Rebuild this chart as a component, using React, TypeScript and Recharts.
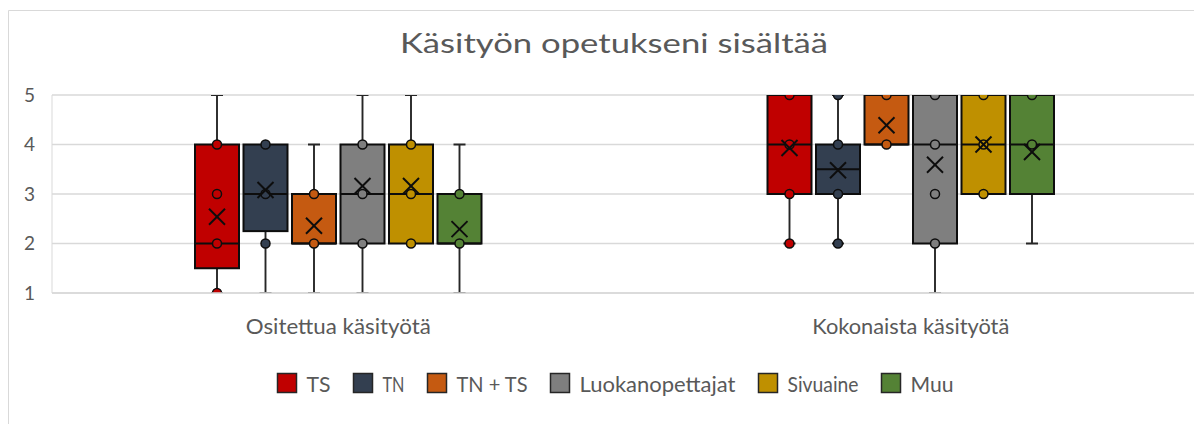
import React from "react";
import { ComposedChart, Bar, XAxis, YAxis, CartesianGrid } from "recharts";

// ---------- data ----------
const categories = ["Ositettua käsityötä", "Kokonaista käsityötä"];
const seriesNames = ["TS", "TN", "TN + TS", "Luokanopettajat", "Sivuaine", "Muu"];
const yTicks = [1, 2, 3, 4, 5];

// each entry: [Ositettua, Kokonaista]
const minValues = [[1, 2], [1, 2], [1, 4], [1, 1], [2, 3], [1, 2]];
const q1Values = [[1.5, 3], [2.25, 3], [2, 4], [2, 2], [2, 3], [2, 3]];
const medianValues = [[2, 4], [3, 3.5], [2, 4], [3, 4], [3, 4], [2, 4]];
const q3Values = [[4, 5], [4, 4], [3, 5], [4, 5], [4, 5], [3, 5]];
const maxValues = [[5, 5], [4, 5], [4, 5], [5, 5], [5, 5], [4, 5]];
const meanValues = [[2.54, 3.93], [3.08, 3.48], [2.36, 4.39], [3.16, 3.59], [3.16, 4.0], [2.29, 3.85]];
const pointValues = [
  [[1, 2, 3, 4], [2, 3, 4, 5]],
  [[2, 3, 4], [2, 3, 4, 5]],
  [[2, 3], [4, 5]],
  [[2, 3, 4], [2, 3, 4, 5]],
  [[2, 3, 4], [3, 4, 5]],
  [[2, 3], [4, 5]],
];

// ---------- styles ----------
const seriesColors = ["#C00000", "#333F50", "#C55A11", "#7F7F7F", "#BF9000", "#548235"];
const FONT = "Lato, 'Open Sans', sans-serif";
const TEXT = "#595959";
const GRID = "#d9d9d9";
const INK = "#0d0d0d";
const WHISKER = "#262626";

const W = 1194;
const H = 416;
const categoryTextLength: Record<string, number> = {
  "Ositettua käsityötä": 185,
  "Kokonaista käsityötä": 197,
};
const legendTextLength = [24, 22, 71, 156, 71, 43];

const seriesKeys = seriesNames.map((_, i) => `s${i}`);

const rows = categories.map((category, ci) => {
  const row: any = { category };
  seriesKeys.forEach((k, si) => {
    row[k] = [minValues[si][ci], maxValues[si][ci]];
  });
  return row;
});

function makeShape(si: number) {
  return (props: any) => {
    const { x, y, width, height, payload, index } = props;
    let ci = payload && payload.category ? categories.indexOf(payload.category) : index;
    if (ci < 0 || ci === undefined) ci = index ?? 0;
    const lo = minValues[si][ci];
    const hi = maxValues[si][ci];
    const top = Math.min(y, y + height);
    const bottom = Math.max(y, y + height);
    const py = (v: number) => bottom - ((v - lo) / (hi - lo)) * (bottom - top);
    const cx = x + width / 2;
    const q1 = q1Values[si][ci];
    const q3 = q3Values[si][ci];
    const med = medianValues[si][ci];
    const mean = meanValues[si][ci];
    const color = seriesColors[si];
    const cap = 6;
    const xs = 8;
    const my = py(mean);
    return (
      <g>
        {hi > q3 && (
          <g>
            <line x1={cx} x2={cx} y1={py(hi)} y2={py(q3)} stroke={WHISKER} strokeWidth={1.9} />
            <line x1={cx - cap} x2={cx + cap} y1={py(hi)} y2={py(hi)} stroke={WHISKER} strokeWidth={1.9} />
          </g>
        )}
        {lo < q1 && (
          <g>
            <line x1={cx} x2={cx} y1={py(q1)} y2={py(lo)} stroke={WHISKER} strokeWidth={1.9} />
            <line x1={cx - cap} x2={cx + cap} y1={py(lo)} y2={py(lo)} stroke={WHISKER} strokeWidth={1.9} />
          </g>
        )}
        <rect
          x={x}
          y={py(q3)}
          width={width}
          height={py(q1) - py(q3)}
          fill={color}
          stroke={INK}
          strokeWidth={2}
        />
        <line x1={x} x2={x + width} y1={py(med)} y2={py(med)} stroke={INK} strokeWidth={2} />
        {pointValues[si][ci].map((p, pi) => (
          <circle key={pi} cx={cx} cy={py(p)} r={4.5} fill={color} stroke={INK} strokeWidth={1.5} />
        ))}
        <line x1={cx - xs} x2={cx + xs} y1={my - xs} y2={my + xs} stroke={INK} strokeWidth={2} />
        <line x1={cx - xs} x2={cx + xs} y1={my + xs} y2={my - xs} stroke={INK} strokeWidth={2} />
      </g>
    );
  };
}

const CategoryTick = (props: any) => {
  const { x, y, payload } = props;
  const label = String(payload.value);
  return (
    <text
      x={x}
      y={y}
      dy="0.71em"
      textAnchor="middle"
      fill={TEXT}
      fontFamily={FONT}
      fontSize={21}
      textLength={categoryTextLength[label]}
      lengthAdjust="spacingAndGlyphs"
    >
      {label}
    </text>
  );
};

function Overlay() {
  const sq = 19;
  const innerGap = 10;
  const itemGap = 23;
  const total =
    seriesNames.length * (sq + innerGap) +
    legendTextLength.reduce((a, b) => a + b, 0) +
    (seriesNames.length - 1) * itemGap;
  let cursor = 607.5 - total / 2;
  const items = seriesNames.map((name, i) => {
    const sx = cursor;
    cursor += sq + innerGap + legendTextLength[i] + itemGap;
    return (
      <g key={name}>
        <rect x={sx} y={365.5} width={sq} height={sq} fill={seriesColors[i]} stroke={WHISKER} strokeWidth={1.5} />
        <text
          x={sx + sq + innerGap}
          y={384}
          fill={TEXT}
          fontFamily={FONT}
          fontSize={22}
          textLength={legendTextLength[i]}
          lengthAdjust="spacingAndGlyphs"
        >
          {name}
        </text>
      </g>
    );
  });
  return (
    <svg
      width={W}
      height={H}
      style={{ position: "absolute", left: 0, top: 0, pointerEvents: "none" }}
    >
      <line x1={0.5} x2={W} y1={2.5} y2={2.5} stroke={GRID} strokeWidth={1} />
      <line x1={0.5} x2={0.5} y1={2.5} y2={H} stroke={GRID} strokeWidth={1} />
      <text
        x={606}
        y={45}
        textAnchor="middle"
        fill={TEXT}
        fontFamily={FONT}
        fontSize={26}
        textLength={428}
        lengthAdjust="spacingAndGlyphs"
      >
        Käsityön opetukseni sisältää
      </text>
      {items}
    </svg>
  );
}

export default function App() {
  return (
    <div style={{ position: "relative", width: W, height: H, background: "#fff" }}>
      <ComposedChart
        width={W}
        height={H}
        data={rows}
        margin={{ top: 87, right: 5, bottom: 0, left: 0 }}
        barGap={4.5}
      >
        <CartesianGrid vertical={false} stroke={GRID} strokeWidth={1.5} />
        <YAxis
          type="number"
          domain={[1, 5]}
          ticks={yTicks}
          width={44}
          axisLine={{ stroke: GRID, strokeWidth: 1 }}
          tickLine={false}
          tickSize={0}
          tickMargin={17}
          tick={{ fill: TEXT, fontSize: 19, fontFamily: FONT }}
          allowDataOverflow
        />
        {seriesKeys.map((k, si) => (
          <Bar
            key={k}
            dataKey={k}
            name={seriesNames[si]}
            fill={seriesColors[si]}
            barSize={44}
            isAnimationActive={false}
            shape={makeShape(si)}
          />
        ))}
        <XAxis
          dataKey="category"
          height={131}
          axisLine={{ stroke: GRID, strokeWidth: 1.5 }}
          tickLine={false}
          tickSize={0}
          tickMargin={26}
          interval={0}
          tick={<CategoryTick />}
        />
      </ComposedChart>
      <Overlay />
    </div>
  );
}
